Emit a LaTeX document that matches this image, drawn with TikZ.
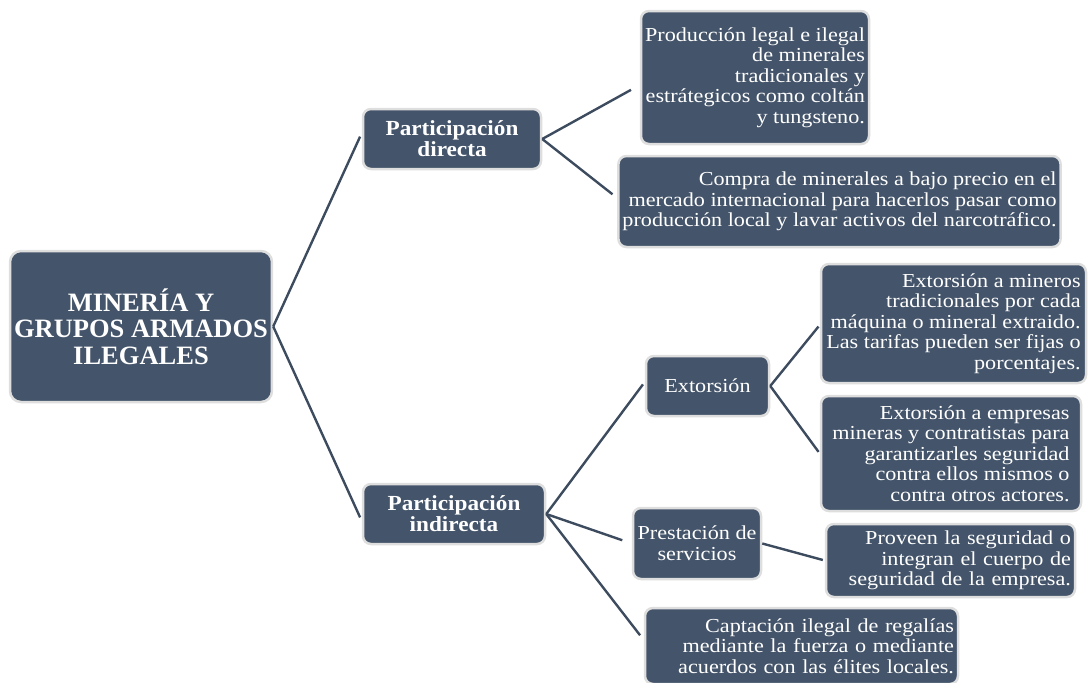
\documentclass[tikz,border=0pt]{standalone}
\usepackage{fontspec}
\setmainfont{Liberation Serif}[FakeStretch=1.12]
\newfontfamily\branchfont{Liberation Serif}[FakeStretch=1.08]
\newfontfamily\rootfont{Liberation Serif}
\definecolor{boxfill}{HTML}{44546A}
\definecolor{boxline}{HTML}{DEDEDE}
\definecolor{connline}{HTML}{3D4B5F}
\begin{document}
\begin{tikzpicture}[x=1pt,y=-1pt,
  box/.style={draw=boxline, line width=2.5pt, fill=boxfill, rounded corners=8pt,
    text=white, inner xsep=4pt, inner ysep=2pt},
  leaf/.style={box, align=right, font={\fontsize{19.8}{20.5}\selectfont}},
  midbox/.style={box, align=center, font={\fontsize{19.8}{21}\selectfont}},
  branch/.style={box, align=center, font={\branchfont\bfseries\fontsize{21.5}{21}\selectfont}},
  rootbox/.style={box, rounded corners=11pt, align=center, font={\rootfont\bfseries\fontsize{26.5}{26.5}\selectfont}},
  connector/.style={draw=connline, line width=2.4pt}]
\useasboundingbox (0,0) rectangle (1088,683);
\clip (0,0) rectangle (1088,683);

% nodes
\node[rootbox, minimum width=260, minimum height=151] (root) at (141,326.5)
  {MINERÍA Y\\GRUPOS ARMADOS\\ILEGALES};
\node[branch, minimum width=178, minimum height=60] (dir) at (452,139)
  {Participación\\directa};
\node[branch, minimum width=182, minimum height=60] (ind) at (454,514)
  {Participación\\indirecta};
\node[leaf, minimum width=228, minimum height=133] (prod) at (755,77.5)
  {Producción legal e ilegal\\de minerales\\tradicionales y\\estrátegicos como coltán\\y tungsteno.};
\node[leaf, minimum width=439, minimum height=91] (compra) at (839.5,201.5)
  {Compra de minerales a bajo precio en el\\mercado internacional para hacerlos pasar como\\producción local y lavar activos del narcotráfico.};
\node[midbox, minimum width=123, minimum height=60] (ext) at (707.5,386)
  {Extorsión};
\node[leaf, minimum width=265, minimum height=119] (extA) at (953.5,323.5)
  {Extorsión a mineros\\tradicionales por cada\\máquina o mineral extraido.\\Las tarifas pueden ser fijas o\\porcentajes.};
\node[leaf, minimum width=260, minimum height=115] (extB) at (951,453.5)
  {Extorsión a empresas\\mineras y contratistas para\\garantizarles seguridad\\contra ellos mismos o\\contra otros actores.};
\node[midbox, minimum width=128, minimum height=71] (prest) at (697,543.5)
  {Prestación de\\servicios};
\node[leaf, text width=241, minimum height=73] (prov) at (950.5,560.5)
  {Proveen la seguridad o\\integran el cuerpo de\\seguridad de la empresa.};
\node[leaf, text width=305, minimum height=76] (capt) at (801.5,646)
  {Captación ilegal de regalías\\mediante la fuerza o mediante\\acuerdos con las élites locales.};

% connectors
\draw[connector, shorten >=4pt] (root.east) -- ([yshift=6pt]dir.west);
\draw[connector, shorten >=4pt] (root.east) -- ([yshift=-7pt]ind.west);
\draw[connector, shorten >=10pt] (dir.east) -- ([yshift=-7.5pt]prod.west);
\draw[connector, shorten >=6pt] (dir.east) -- ([yshift=3.5pt]compra.west);
\draw[connector, shorten >=3pt] (ind.east) -- ([yshift=4pt]ext.west);
\draw[connector, shorten >=10pt] (ind.east) -- (prest.west);
\draw[connector, shorten >=6pt] (ind.east) -- ([yshift=6pt]capt.west);
\draw[connector, shorten >=2pt] (ext.east) -- ([yshift=-1.5pt]extA.west);
\draw[connector, shorten >=2pt] (ext.east) -- (extB.west);
\draw[connector, shorten >=2pt] (prest.east) -- (prov.west);
\end{tikzpicture}
\end{document}
